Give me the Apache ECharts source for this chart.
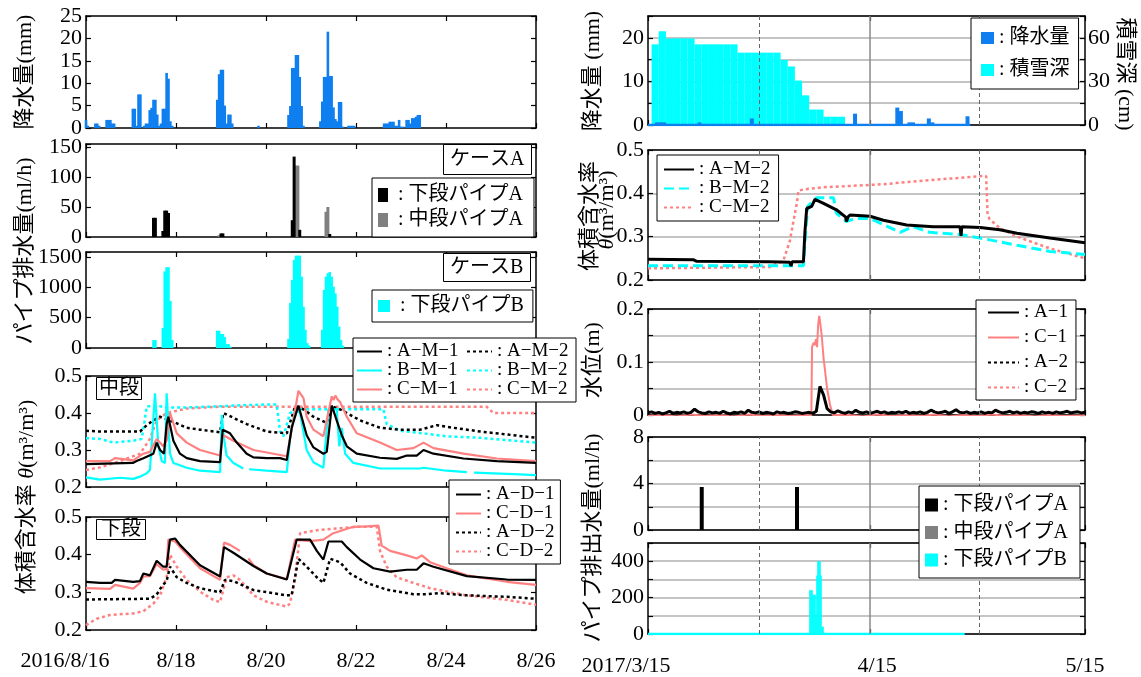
<!DOCTYPE html>
<html><head><meta charset="utf-8">
<script src="https://cdn.jsdelivr.net/npm/echarts@6/dist/echarts.min.js"></script>
<style>html,body{margin:0;padding:0;background:#fff}#c{width:1141px;height:677px}</style>
</head><body><div id="c"></div>
<script>
// ---------------- DATA ----------------
// Left column: x = hours since 2016/8/16 00:00
const leftTickLabels = ['2016/8/16','8/18','8/20','8/22','8/24','8/26'];
// Right column: x = days since 2017/3/15
const rightTickDays = [0, 31, 61];
const rightTickLabels = ['2017/3/15','4/15','5/15'];
const rightMajorGridDays = [31];
const rightMinorGridDays = [15.5, 46.2];

const yTicksL1 = ['0','5','10','15','20','25'];
const yTicksL2 = ['0','50','100','150'];
const yTicksL3 = ['0','500','1000','1500'];
const yTicksTheta = ['0.2','0.3','0.4','0.5'];
const yTicksR1 = ['0','10','20'];
const yTicksR1snow = ['0','30','60'];
const yTicksR3 = ['0','0.1','0.2'];
const yTicksR4 = ['0','4','8'];
const yTicksR5 = ['0','200','400'];

// precipitation (mm), left
const precipLeft = [[0,1.8],[1,0.5],[5,1],[6,1],[7,0.5],[11,1.8],[12,1.8],[13,1.8],[14,1],[15,1],
 [25,4.3],[26,4.3],[27,0.5],[28,7.5],[29,7.5],[31,0.5],[32,1],[33,1],[34,4],[35,4.5],[36,6.3],[37,6.3],[38,3],[39,0.5],[40,1],[41,4.3],[42,4.3],[43,12.3],[44,11],[45,1.5],[46,0.5],
 [70,6.3],[71,12],[72,13],[73,13],[74,5],[75,1],[76,3],[77,3],[78,1],[92,0.5],
 [108,2.9],[109,4.9],[110,13.4],[111,13.4],[112,16.3],[113,16.3],[114,11.4],[115,4.9],[116,0.5],
 [125,1.5],[126,5.9],[127,11.4],[128,11.4],[129,21.5],[130,11.6],[131,11.6],[132,4.6],[133,2],[134,1.5],[135,5.8],[136,5.8],[137,0.3],
 [140,0.5],[141,0.5],[142,0.5],[143,0.5],
 [159,1],[160,1],[161,1],[162,1.4],[163,1.4],[164,1.4],[165,0.5],[166,0.5],[167,1.8],[168,0.3],[169,0.3],[171,1.8],[172,1.8],[173,1],[174,2.2],[175,2.2],[176,2.5],[177,2.9],[178,2.9]];

// pipe drainage (ml/h), left
const drainA_lower = [[36,32],[37,32],[41,10],[42,44],[43,44],[44,40],[72,6],[73,6],[110,28],[111,134],[114,12],[130,5]];
const drainA_middle = [[43,4],[71,3],[112,119],[113,119],[128,42],[129,50]];
const drainB_lower = [[36,130],[37,130],[41,330],[42,1260],[43,1330],[44,1330],[45,775],[46,130],
 [70,285],[71,285],[72,230],[73,230],[74,180],[75,65],[76,65],[77,20],
 [108,150],[109,740],[110,1120],[111,1450],[112,1520],[113,1520],[114,1520],[115,1175],[116,680],[117,300],[118,80],[119,40],
 [126,300],[127,955],[128,1175],[129,1230],[130,1250],[131,1175],[132,1010],[133,900],[134,680],[135,350],[136,130],[137,40]];

// volumetric water content, middle layer (left)
const thetaAM1 = [[0,0.262],[25,0.265],[27,0.27],[30.6,0.278],[35.9,0.29],[37.7,0.32],[39.5,0.30],[41.6,0.29],[43,0.37],[43.9,0.39],[46.6,0.325],[50.1,0.29],[53.7,0.278],[60.8,0.27],[71.5,0.267],[72.9,0.355],[76.8,0.345],[80.4,0.32],[85.7,0.29],[89.3,0.28],[96.4,0.278],[103.5,0.278],[107.1,0.273],[109.7,0.36],[113.3,0.42],[117.7,0.34],[121.3,0.307],[126.6,0.29],[128.4,0.295],[131.1,0.42],[133.7,0.38],[136.4,0.34],[139.1,0.31],[144.4,0.29],[156.8,0.279],[165.7,0.276],[171.1,0.285],[176.4,0.285],[180,0.30],[185.3,0.29],[201.3,0.277],[219.1,0.27],[240,0.265]];
const thetaBM1 = [[0,0.226],[7.5,0.22],[18.2,0.225],[25.2,0.222],[28.8,0.228],[32.4,0.237],[34.1,0.246],[36.8,0.453],[38.6,0.31],[40.4,0.27],[42.1,0.265],[43,0.453],[44.8,0.29],[46.6,0.265],[53.7,0.252],[60.8,0.244],[71.5,0.24],[72.4,0.395],[73.6,0.33],[75,0.285],[78.6,0.265],[83.9,0.25],[85.5,'-'],[87,0.248],[96.4,0.244],[107.1,0.24],[108.8,0.33],[111.5,0.41],[114.2,0.40],[117.7,0.30],[121.3,0.267],[126.6,0.252],[129.3,0.41],[133.7,0.41],[135.1,0.31],[136.4,0.36],[138.2,0.29],[142.6,0.265],[156.8,0.25],[178.2,0.25],[180,0.252],[192.4,0.244],[203.1,0.24],[205,'-'],[207,0.239],[228,0.235],[240,0.232]];
const thetaCM1 = [[0,0.27],[12.8,0.27],[15.5,0.278],[25.2,0.272],[30.6,0.29],[34.1,0.295],[37.7,0.33],[41.2,0.31],[43,0.325],[44.8,0.40],[48.4,0.345],[53.7,0.32],[60.8,0.30],[71.5,0.285],[72.9,0.34],[75,0.335],[78.6,0.325],[89.3,0.30],[107.1,0.283],[110.6,0.38],[113.3,0.46],[116,0.44],[117.7,0.39],[121.3,0.355],[126.6,0.337],[131.1,0.445],[132,0.435],[133,0.447],[134,0.438],[135.5,0.43],[139.1,0.39],[144.4,0.345],[156.8,0.32],[165.7,0.30],[174.6,0.305],[180,0.32],[185.3,0.305],[201.3,0.29],[219.1,0.277],[240,0.27]];
const thetaAM2 = [[0,0.352],[7.5,0.35],[28.8,0.35],[32.4,0.367],[35.9,0.38],[39.5,0.39],[44.8,0.38],[53.7,0.36],[60.8,0.355],[71.5,0.348],[73.2,0.40],[78.6,0.387],[85.7,0.37],[96.4,0.35],[107.1,0.345],[111.5,0.418],[116,0.41],[121.3,0.39],[128.4,0.373],[131.1,0.418],[135.5,0.41],[146.2,0.38],[156.8,0.36],[167.5,0.355],[178.2,0.355],[187.1,0.367],[196,0.36],[210.2,0.35],[228,0.34],[240,0.333]];
const thetaBM2 = [[0,0.332],[7.5,0.33],[14.6,0.32],[25.2,0.325],[29.7,0.33],[31,0.37],[32.4,0.418],[39.5,0.418],[43,0.415],[53.7,0.415],[71.5,0.418],[78.6,0.42],[96.4,0.423],[101.7,0.423],[103.5,0.35],[105.3,0.337],[108.8,0.40],[112.4,0.41],[158.6,0.41],[160.4,0.37],[167.5,0.352],[180,0.345],[192.4,0.337],[210.2,0.333],[240,0.32]];
const thetaCM2 = [[0,0.246],[7.5,0.253],[18.2,0.27],[28.8,0.29],[34.1,0.33],[37.7,0.38],[43,0.40],[53.7,0.412],[71.5,0.417],[107,0.417],[213.7,0.417],[217.3,0.40],[240,0.40]];

// volumetric water content, lower layer (left)
const thetaAD1 = [[0,0.328],[7.5,0.325],[13.7,0.325],[15.5,0.333],[25.2,0.328],[28.8,0.33],[30.6,0.35],[34.1,0.345],[37.7,0.384],[41.2,0.368],[43,0.368],[44.8,0.44],[47.5,0.443],[50.1,0.426],[60.8,0.372],[71.5,0.342],[73.6,0.42],[78.6,0.405],[89.3,0.37],[96.4,0.35],[107.1,0.334],[112.4,0.44],[119.5,0.44],[123.1,0.41],[126.6,0.387],[129.3,0.435],[136.4,0.435],[139.1,0.42],[146.2,0.387],[153.3,0.364],[162.2,0.355],[171.1,0.36],[176.4,0.36],[180,0.377],[185.3,0.368],[203.1,0.343],[224.4,0.334],[240,0.333]];
const thetaCD1 = [[0,0.311],[12.8,0.309],[15.5,0.32],[25.2,0.31],[28.8,0.325],[30.6,0.342],[34.1,0.343],[37.7,0.375],[41.2,0.36],[43,0.362],[43.9,0.44],[47.5,0.435],[50.1,0.42],[60.8,0.364],[71.5,0.333],[73.6,0.432],[76.8,0.426],[82.1,0.41],[84,'-'],[86.6,0.39],[89.3,0.372],[96.4,0.35],[107.1,0.335],[111.5,0.44],[119.5,0.436],[126.6,0.44],[131.9,0.457],[142.6,0.474],[149.7,0.475],[156,0.477],[157.7,0.424],[162.2,0.41],[171.1,0.398],[176.4,0.39],[179.1,0.398],[183.5,0.38],[192.4,0.364],[203.1,0.345],[224.4,0.328],[240,0.32]];
const thetaAD2 = [[0,0.281],[34.1,0.283],[37.7,0.294],[40.4,0.316],[43,0.33],[44.8,0.368],[48.4,0.34],[53.7,0.325],[60.8,0.311],[71.5,0.30],[74.1,0.333],[78.6,0.33],[89.3,0.306],[107,0.292],[109.7,0.292],[113.3,0.389],[117.7,0.368],[123.1,0.34],[126.6,0.325],[130.2,0.389],[135.5,0.38],[140.8,0.35],[149.7,0.325],[160.4,0.307],[174.6,0.295],[181.7,0.295],[188.8,0.298],[203.1,0.292],[224.4,0.288],[240,0.283]];
const thetaCD2 = [[0,0.213],[5.7,0.23],[12.8,0.24],[25.2,0.244],[30.6,0.25],[35.9,0.27],[39.5,0.292],[43,0.34],[44.8,0.40],[48.4,0.368],[53.7,0.333],[60.8,0.302],[67.9,0.28],[71.5,0.274],[75,0.34],[78.6,0.345],[82.1,0.333],[89.3,0.292],[96.4,0.275],[107,0.262],[108.8,0.27],[111.5,0.34],[114.2,0.457],[124.8,0.466],[135.5,0.47],[144.4,0.474],[155.1,0.474],[156.8,0.41],[160.4,0.368],[165.7,0.34],[174.6,0.325],[183.5,0.311],[192.4,0.302],[203.1,0.292],[224.4,0.28],[240,0.267]];

// Right column
const snowDepth = [[1,55.5],[2,64.5],[3,59.6],[4,59.6],[5,59.6],[6,59.6],[7,55.5],[8,55.5],[9,55.5],[10,55.5],[11,55.5],[12,55.5],[13,49.8],[14,49.8],[15,49.8],[16,49.8],[17,49.8],[18,49.8],[19,44.8],[20,40.3],[21,30.6],[22,20.4],[23,10.6],[24,10.6],[25,5.7],[26,5.7],[27,5.7]];
const precipRight = [[1.25,0.6],[1.75,0.6],[2.25,0.6],[7.2,0.6],[14.5,1.5],[28.9,2.6],[34.8,4.0],[35.3,3.2],[36.5,0.6],[37.0,0.6],[39.2,1.5],[39.7,0.6],[44.6,2.0]];
const precipRightBase = [[0,0],[45,0]];

const thetaRAM2 = [[0,0.248],[6.3,0.247],[6.8,0.243],[17,0.242],[19.8,0.241],[19.96,0.232],[20.1,0.242],[21.7,0.242],[21.9,0.31],[22.15,0.365],[22.85,0.37],[23.3,0.386],[24.5,0.377],[26.3,0.362],[27.6,0.345],[27.7,0.335],[27.9,0.345],[28.2,0.35],[31,0.347],[32.85,0.338],[36.1,0.327],[39.8,0.323],[43.55,0.323],[43.7,0.302],[43.8,0.323],[46.35,0.321],[49.1,0.316],[51.5,0.308],[56.1,0.297],[61,0.286]];
const thetaRBM2 = [[0,0.233],[21.7,0.233],[21.92,0.29],[22.3,0.37],[23.55,0.39],[25.9,0.39],[26.3,0.354],[27.7,0.335],[28.2,0.338],[29.1,0.342],[31,0.342],[35.2,0.31],[37,0.323],[39.3,0.31],[43.55,0.305],[46.35,0.297],[51.5,0.28],[56.1,0.266],[61,0.259]];
const thetaRCM2 = [[0,0.227],[17,0.23],[18.9,0.245],[19.8,0.29],[20.8,0.38],[21,0.406],[21.7,0.409],[24.5,0.414],[28.2,0.417],[32.85,0.421],[37.5,0.428],[42.1,0.434],[46.8,0.44],[47.2,0.44],[47.4,0.35],[47.7,0.34],[49.1,0.32],[51.5,0.30],[56.1,0.273],[61,0.25]];

// water level (m), A-1 sampled every half day
const WATER_STEP = 0.5;
const waterA1 = [
 0.004,0.006,0.003,0.005,0.002,0.004,0.007,0.003,0.005,0.004,
 0.006,0.003,0.005,0.011,0.006,0.004,0.003,0.006,0.004,0.005,
 0.003,0.007,0.004,0.002,0.005,0.004,0.006,0.003,0.009,0.005,
 0.004,0.006,0.003,0.005,0.004,0.002,0.006,0.004,0.005,0.003,
 0.004,0.006,0.005,0.003,0.004,0.005,0.003,0.007,0.054,0.038,
 0.012,0.006,0.004,0.008,0.005,0.003,0.006,0.004,0.009,0.005,
 0.004,0.006,0.003,0.005,0.007,0.004,0.006,0.003,0.005,0.004,
 0.006,0.004,0.007,0.003,0.005,0.004,0.006,0.003,0.005,0.009,
 0.006,0.004,0.005,0.007,0.003,0.006,0.010,0.005,0.004,0.006,
 0.003,0.005,0.004,0.006,0.003,0.005,0.004,0.009,0.006,0.004,
 0.005,0.007,0.004,0.006,0.003,0.005,0.004,0.006,0.005,0.003,
 0.006,0.004,0.005,0.003,0.006,0.004,0.005,0.007,0.004,0.005,
 0.006,0.004,0.005];
const waterC1 = [[0,-0.002],[2,0.0],[4,-0.003],[6,0.001],[8,-0.002],[10,0.0],[12,-0.003],[14,0.001],[16,-0.002],[18,0.0],[20,-0.002],[22,0.0],[22.8,-0.001],[22.9,0.128],[23.1,0.136],[23.3,0.132],[23.45,0.143],[23.6,0.128],[23.75,0.17],[23.9,0.187],[24.0,0.178],[24.25,0.15],[24.5,0.108],[24.7,0.085],[25.0,0.05],[25.4,0.02],[25.8,0.0],[26,-0.002],[28,0.0],[30,-0.003],[32,0.001],[34,-0.002],[36,0.0],[38,-0.002],[40,0.001],[42,-0.003],[44,0.0],[46,-0.002],[48,0.001],[50,-0.002],[52,0.0],[54,-0.003],[56,0.0],[58,-0.002],[61,-0.001]];

const drainRA_lower = [[7.5,3.7],[20.8,3.7]];
const drainRB_lower = [[22.61,241],[22.75,241],[22.89,241],[23.03,215],[23.17,215],[23.31,215],[23.45,108],[23.59,322],[23.73,400],[23.87,400],[24.01,400],[24.15,322],[24.29,40],[24.43,40]];
const drainRB_base = [[0,0],[44.2,0]];

// ---------------- STYLE / LAYOUT ----------------
const SERIF = '"Liberation Serif", "Times New Roman", serif';
const JPF = '"Liberation Serif", "Noto Sans CJK JP", sans-serif';
const BLUE = '#0f7ff0', CYAN = '#00ffff', SALMON = '#ff8080', GRAY = '#808080', BLACK = '#000';

const grids = [
 {left:86, top:16, width:450, height:112},
 {left:86, top:144, width:450, height:93},
 {left:86, top:252, width:450, height:96},
 {left:86, top:376, width:450, height:111},
 {left:86, top:517, width:450, height:113},
 {left:648, top:16, width:437, height:109},
 {left:648, top:150, width:437, height:130},
 {left:648, top:309, width:437, height:106},
 {left:648, top:437, width:437, height:93},
 {left:648, top:543, width:437, height:94}
];
const ySpecs = [
 {min:0,max:25,interval:5,labels:yTicksL1},
 {min:0,max:155,interval:50,labels:yTicksL2},
 {min:0,max:1580,interval:500,labels:yTicksL3},
 {min:0.2,max:0.5,interval:0.1,labels:yTicksTheta},
 {min:0.2,max:0.5,interval:0.1,labels:yTicksTheta},
 {min:0,max:25,interval:5,labels:yTicksR1,split:true,right:{min:0,max:75,interval:15,labels:yTicksR1snow}},
 {min:0.2,max:0.5,interval:0.1,labels:yTicksTheta,split:true},
 {min:0,max:0.2,interval:0.05,labels:yTicksR3,split:true},
 {min:0,max:8,interval:2,labels:yTicksR4,split:true},
 {min:0,max:500,interval:100,labels:yTicksR5,split:true}
];
const axLine = {show:true, onZero:false, lineStyle:{color:BLACK, width:1.5}};
const axTick = {show:true, inside:true, length:5, lineStyle:{color:BLACK, width:1.2}};
const fmtLabels = labels => v => { const s = String(+(+v).toFixed(4)); return labels.indexOf(s) >= 0 ? s : ''; };

const xAxes = [], yAxes = [];
grids.forEach((g, i) => {
  const isLeft = i < 5;
  const xr = isLeft ? {min:0,max:240,interval:48} : {min:0,max:61,interval:31};
  let lab = {show:false};
  if (i === 4) lab = {show:true, margin:20, fontSize:22, fontFamily:SERIF, color:BLACK,
    formatter: v => { const k = Math.round(v/48); return k === 0 ? '{a|' + leftTickLabels[0] + '}' : (leftTickLabels[k] || ''); },
    rich:{a:{fontSize:22, fontFamily:SERIF, color:BLACK, padding:[0,42,0,0]}}};
  if (i === 9) lab = {show:true, margin:21, fontSize:22, fontFamily:SERIF, color:BLACK,
    formatter: v => { const k = rightTickDays.indexOf(Math.round(v)); if (k === 0) return '{a|' + rightTickLabels[0] + '}'; if (k === 1) return '{b|' + rightTickLabels[1] + '}'; return k > 0 ? rightTickLabels[k] : ''; },
    rich:{a:{fontSize:22, fontFamily:SERIF, color:BLACK, padding:[0,44,0,0]}, b:{fontSize:22, fontFamily:SERIF, color:BLACK, padding:[0,0,0,14]}}};
  xAxes.push(Object.assign({gridIndex:i, type:'value', position:'bottom', axisLine:axLine, axisTick:axTick, splitLine:{show:false}, axisLabel:lab}, xr));
  xAxes.push(Object.assign({gridIndex:i, type:'value', position:'top', axisLine:axLine, axisTick:axTick, splitLine:{show:false}, axisLabel:{show:false}}, xr));
  const ys = ySpecs[i];
  yAxes.push({gridIndex:i, type:'value', position:'left', min:ys.min, max:ys.max, interval:ys.interval,
    axisLine:axLine, axisTick:axTick,
    splitLine:{show:!!ys.split, lineStyle:{color:'#b0b0b0', width:1.5}},
    axisLabel:{show:true, margin:4, fontSize:22, fontFamily:SERIF, color:BLACK, formatter:fmtLabels(ys.labels)}});
  const r = ys.right || ys;
  yAxes.push({gridIndex:i, type:'value', position:'right', min:r.min, max:r.max, interval:r.interval,
    axisLine:axLine, axisTick:axTick, splitLine:{show:false},
    axisLabel: ys.right ? {show:true, margin:3, fontSize:22, fontFamily:SERIF, color:BLACK, formatter:fmtLabels(r.labels)} : {show:false}});
});

function line(name, g, data, color, width, type, z) {
  return {type:'line', name, xAxisIndex:2*g, yAxisIndex:2*g, data, symbol:'none', showSymbol:false,
    connectNulls:false, lineStyle:{color, width, type: type || 'solid'}, itemStyle:{color}, z: z || 3, silent:true, animation:false};
}
function bar(name, g, data, color, width, useTop, yIdx) {
  return {type:'bar', name, xAxisIndex:2*g + (useTop ? 1 : 0), yAxisIndex: yIdx != null ? yIdx : 2*g, data,
    barWidth:width, barGap:'-100%', itemStyle:{color}, silent:true, animation:false, z:2};
}
const DOT = [3,3];

const series = [
  bar('L1|降水量', 0, precipLeft, BLUE, 2.6),
  bar('L2|中段パイプA', 1, drainA_middle, GRAY, 3, true),
  bar('L2|下段パイプA', 1, drainA_lower, BLACK, 3),
  bar('L3|下段パイプB', 2, drainB_lower, CYAN, 2.6),
  line('L4|C−M−2', 3, thetaCM2, SALMON, 2.5, DOT),
  line('L4|B−M−2', 3, thetaBM2, CYAN, 2.5, DOT),
  line('L4|A−M−2', 3, thetaAM2, BLACK, 2.5, DOT),
  line('L4|B−M−1', 3, thetaBM1, CYAN, 2.2),
  line('L4|C−M−1', 3, thetaCM1, SALMON, 2.2),
  line('L4|A−M−1', 3, thetaAM1, BLACK, 2.2),
  line('L5|C−D−2', 4, thetaCD2, SALMON, 2.5, DOT),
  line('L5|A−D−2', 4, thetaAD2, BLACK, 2.5, DOT),
  line('L5|C−D−1', 4, thetaCD1, SALMON, 2.2),
  line('L5|A−D−1', 4, thetaAD1, BLACK, 2.2),
  bar('R1|積雪深', 5, snowDepth, CYAN, 7.2, true, 11),
  bar('R1|降水量', 5, precipRight, BLUE, 4),
  line('R1|base', 5, precipRightBase, BLUE, 2.5),
  line('R2|C−M−2', 6, thetaRCM2, SALMON, 2.5, DOT),
  line('R2|B−M−2', 6, thetaRBM2, CYAN, 3, [10,5]),
  line('R2|A−M−2', 6, thetaRAM2, BLACK, 3),
  line('R3|C−1', 7, waterC1, SALMON, 2),
  line('R3|A−1', 7, waterA1.map((v, i) => [i * WATER_STEP, v]), BLACK, 3),
  line('R3|A−2', 7, [], BLACK, 2.5, DOT),
  line('R3|C−2', 7, [], SALMON, 2.5, DOT),
  bar('R4|下段パイプA', 8, drainRA_lower, BLACK, 4),
  bar('R4|中段パイプA', 8, [], GRAY, 4, true),
  bar('R5|下段パイプB', 9, drainRB_lower, CYAN, 1.6),
  line('R5|base', 9, drainRB_base, CYAN, 2.5)
];
// vertical grid lines on right panels
for (let g = 5; g <= 9; g++) {
  series.push({type:'line', name:'grid'+g, xAxisIndex:2*g, yAxisIndex:2*g, data:[], z:1, silent:true,
    markLine:{symbol:['none','none'], silent:true, animation:false, label:{show:false},
      data: rightMajorGridDays.map(d => ({xAxis:d, lineStyle:{type:'solid', color:'#8a8a8a', width:1.5}}))
        .concat(rightMinorGridDays.map(d => ({xAxis:d, lineStyle:{type:[4,3], color:'#666', width:1}})))}});
}

const lgBase = {selectedMode:false, orient:'vertical', borderColor:BLACK, borderWidth:1, backgroundColor:'#fff', z:20,
  textStyle:{fontSize:20, lineHeight:20, fontFamily:JPF, color:BLACK}};
const noSym = {itemStyle:{opacity:0, borderWidth:0}};
const strip = n => n.slice(3);
const legends = [
  Object.assign({}, lgBase, {data:['L2|下段パイプA','L2|中段パイプA'], left:372, top:178, padding:[7,11,7,6], itemGap:5, itemWidth:10, itemHeight:14, icon:'rect', formatter:n => ' : ' + strip(n)}),
  Object.assign({}, lgBase, {data:['L3|下段パイプB'], left:372, top:290, padding:[6,9,6,6], itemWidth:12, itemHeight:12, icon:'rect', formatter:n => ' : ' + strip(n)}),
  Object.assign({}, lgBase, noSym, {data:['L4|A−M−1','L4|B−M−1','L4|C−M−1'], left:356, top:342, padding:0, itemGap:0, itemWidth:25, itemHeight:12, borderWidth:0, backgroundColor:'rgba(0,0,0,0)', z:30, textStyle:{fontSize:19, lineHeight:18.3, fontFamily:SERIF, color:BLACK}, formatter:n => ': ' + strip(n)}),
  Object.assign({}, lgBase, noSym, {data:['L4|A−M−2','L4|B−M−2','L4|C−M−2'], left:466, top:342, padding:0, itemGap:0, itemWidth:25, itemHeight:12, borderWidth:0, backgroundColor:'rgba(0,0,0,0)', z:30, textStyle:{fontSize:19, lineHeight:18.3, fontFamily:SERIF, color:BLACK}, formatter:n => ': ' + strip(n)}),
  Object.assign({}, lgBase, noSym, {data:['L5|A−D−1','L5|C−D−1','L5|A−D−2','L5|C−D−2'], left:449, top:480, padding:[5,6,3,6], itemGap:0, itemWidth:25, itemHeight:12, textStyle:{fontSize:19, lineHeight:19, fontFamily:SERIF, color:BLACK}, formatter:n => ': ' + strip(n)}),
  Object.assign({}, lgBase, {data:['R1|降水量','R1|積雪深'], left:971, top:18, padding:[10,9,9,10], itemGap:12, itemWidth:13, itemHeight:12, icon:'rect', formatter:n => ': ' + strip(n)}),
  Object.assign({}, lgBase, noSym, {data:['R2|A−M−2','R2|B−M−2','R2|C−M−2'], left:657, top:155, padding:[5,8,4,6], itemGap:0, itemWidth:30, itemHeight:12, textStyle:{fontSize:19, lineHeight:18.5, fontFamily:SERIF, color:BLACK}, formatter:n => ': ' + strip(n)}),
  Object.assign({}, lgBase, noSym, {data:['R3|A−1','R3|C−1','R3|A−2','R3|C−2'], left:976, top:300, padding:[3,8,3,11], itemGap:6, itemWidth:31, itemHeight:12, textStyle:{fontSize:19, lineHeight:19, fontFamily:SERIF, color:BLACK}, formatter:n => ': ' + strip(n)}),
  Object.assign({}, lgBase, {data:['R4|下段パイプA','R4|中段パイプA','R5|下段パイプB'], left:919, top:486, padding:[9,12,8,6], itemGap:7.5, itemWidth:13, itemHeight:13, icon:'rect', formatter:n => ': ' + strip(n)})
];

const boxTitle = (text, left, top, padding) => ({text, left, top, padding, borderColor:BLACK, borderWidth:1, backgroundColor:'#fff', z:20,
  textStyle:{fontSize:20, lineHeight:21, fontWeight:'normal', fontFamily:JPF, color:BLACK}});
const titles = [
  boxTitle('ケースA', 443, 144, [5,7]),
  boxTitle('ケースB', 443, 253, [4,7]),
  boxTitle('中段', 96, 377, [1,3]),
  boxTitle('下段', 96, 519, [0,5])
];

const vt = (text, x, y, rot, size) => ({type:'text', x, y, rotation:rot, z:50, silent:true,
  style:{text, fontSize:size || 22, fontFamily:JPF, fill:BLACK, align:'center', verticalAlign:'middle',
    rich:{it:{fontStyle:'italic', fontSize:size || 22, fontFamily:SERIF, fill:BLACK}}}});
const R90 = Math.PI / 2;
const graphic = [
  {type:'rect', z:25, silent:true, shape:{x:353, y:338, width:223, height:64}, style:{fill:'#fff', stroke:BLACK, lineWidth:1}},
  vt('降水量(mm)', 25, 72, R90),
  vt('パイプ排水量(ml/h)', 25, 251, R90),
  vt('体積含水率 {it|θ}(m³/m³)', 27, 497, R90),
  vt('降水量 (mm)', 593, 71, R90),
  vt('積雪深 (cm)', 1125, 74, -R90),
  vt('体積含水率', 590, 216, R90),
  vt('{it|θ}(m³/m³)', 607, 210, R90),
  vt('水位(m)', 593, 360, R90),
  vt('パイプ排出水量(ml/h)', 593, 538, R90)
];

const option = {animation:false, backgroundColor:'#fff', grid:grids, xAxis:xAxes, yAxis:yAxes,
  series, legend:legends, title:titles, graphic:{elements:graphic}};
const chart = echarts.init(document.getElementById('c'), null, {renderer:'canvas'});
chart.setOption(option);
</script></body></html>
